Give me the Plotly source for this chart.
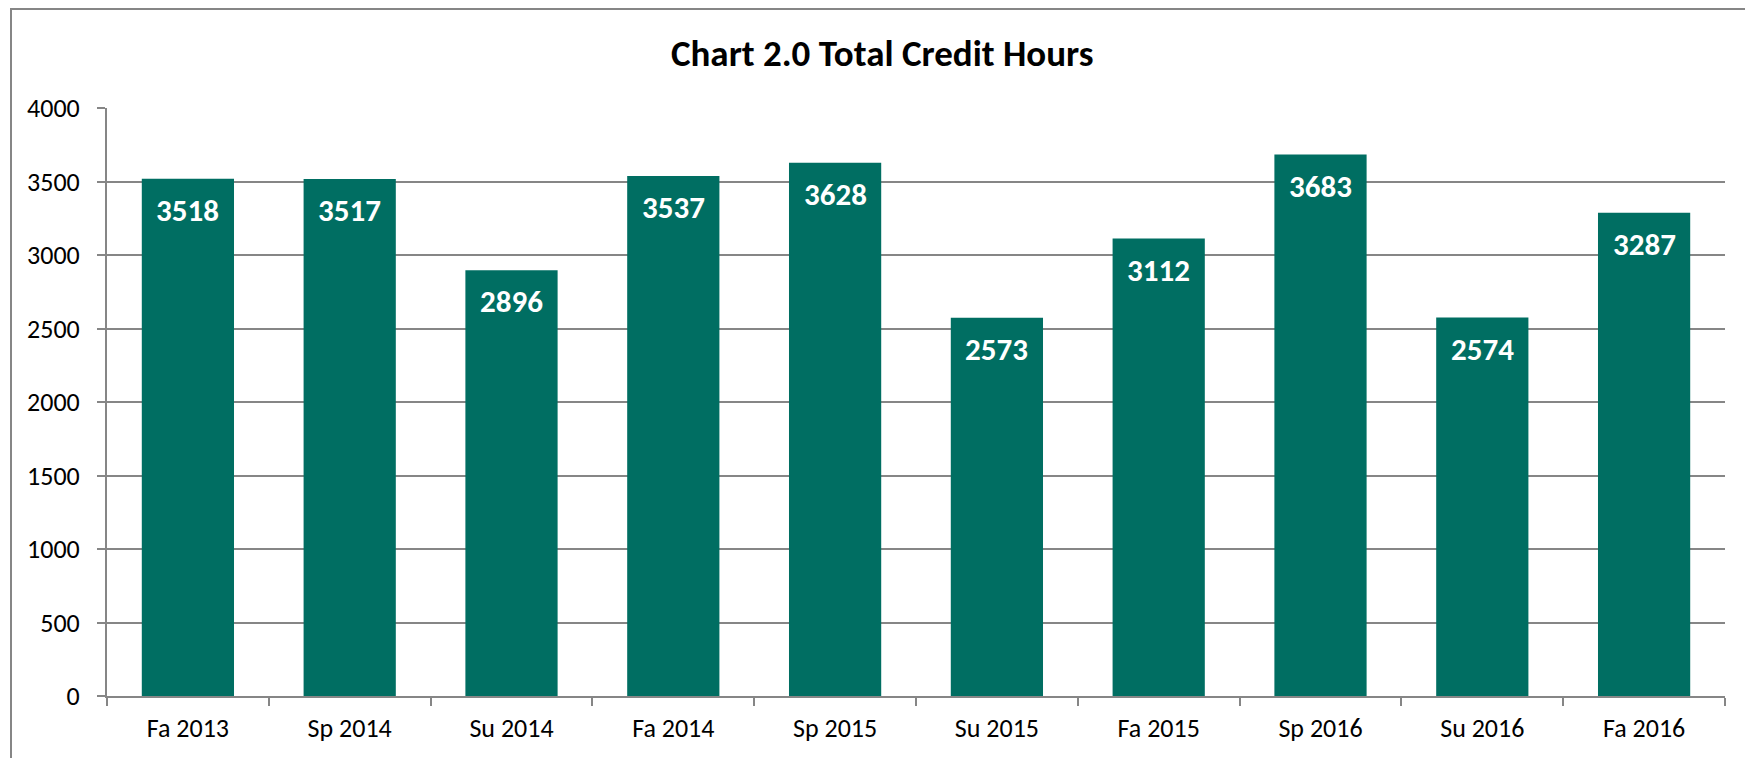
import plotly.graph_objects as go

terms = ["Fa 2013", "Sp 2014", "Su 2014", "Fa 2014", "Sp 2015",
         "Su 2015", "Fa 2015", "Sp 2016", "Su 2016", "Fa 2016"]
credit_hours = [3518, 3517, 2896, 3537, 3628, 2573, 3112, 3683, 2574, 3287]
y_ticks = [0, 500, 1000, 1500, 2000, 2500, 3000, 3500, 4000]

FONT = "Carlito, Calibri, Lato, sans-serif"
BAR = "#006E62"
GREY = "#868686"

fig = go.Figure()
fig.add_trace(go.Bar(
    x=terms, y=credit_hours,
    marker=dict(color=BAR, line=dict(width=0)),
    width=0.57,
))

# value labels inside top of each bar
for t, v in zip(terms, credit_hours):
    fig.add_annotation(
        x=t, y=v, text=f"<b>{v}</b>", showarrow=False,
        yanchor="top", yshift=-10,
        font=dict(family=FONT, size=31, color="white"),
    )

# outer chart border (Excel style)
fig.add_shape(type="rect", xref="paper", yref="paper",
              x0=(3 - 99) / 1618, x1=1.2, y0=-0.3, y1=1 + (100 - 1) / 588,
              line=dict(color=GREY, width=2), layer="below")

fig.update_layout(
    width=1745, height=750,
    margin=dict(l=99, r=28, t=100, b=62),
    paper_bgcolor="white", plot_bgcolor="white",
    showlegend=False,
    font=dict(family=FONT, size=26, color="black"),
    title=dict(text="<b>Chart 2.0 Total Credit Hours</b>", x=0.501, xanchor="center",
               y=0.94, yanchor="middle", font=dict(family=FONT, size=37, color="black")),
    xaxis=dict(showline=True, linecolor=GREY, linewidth=2, ticks="outside",
               tickcolor=GREY, ticklen=8, tickwidth=2, tickson="boundaries",
               showgrid=False, tickfont=dict(size=26), ticklabelstandoff=8),
    yaxis=dict(range=[0, 4000], tickvals=y_ticks, showline=True, linecolor=GREY,
               linewidth=2, ticks="outside", tickcolor=GREY, ticklen=8, tickwidth=2,
               showgrid=True, gridcolor=GREY, gridwidth=2, zeroline=False,
               tickfont=dict(size=26), ticklabelstandoff=12),
)

fig.write_html("out.html")
